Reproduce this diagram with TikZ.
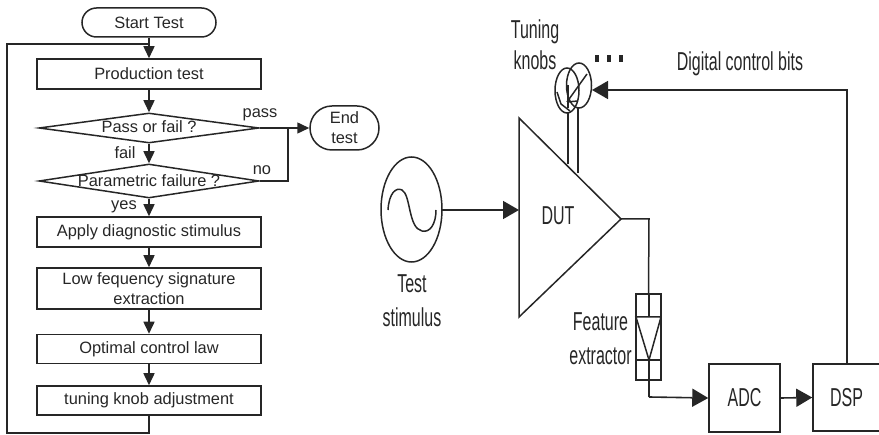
\documentclass[tikz,border=0pt]{standalone}
\usepackage{fontspec}
\usepackage{graphicx}
\setmainfont{Liberation Sans}
\usetikzlibrary{arrows.meta,shapes.misc,shapes.geometric}
\definecolor{ink}{HTML}{262626}
\newcommand{\tallt}[1]{\scalebox{1}[1.62]{#1}}
\tikzset{x=1pt,y=-1pt,
 every node/.style={text=ink,font=\fontsize{16.4}{20}\selectfont,inner sep=0pt,align=center},
 flow/.style={draw=ink,line width=1.5pt,-{Triangle[length=12pt,width=11pt]}},
 bigflow/.style={draw=ink,line width=1.6pt,-{Triangle[length=16pt,width=18pt]}},
 plain/.style={draw=ink,line width=1.5pt},
 boxnode/.style={draw=ink,line width=1.5pt,rectangle,minimum width=224pt,anchor=center},
 lab/.style={draw=none,font=\fontsize{16.4}{18}\selectfont},
 rlab/.style={draw=none,font=\fontsize{16}{18}\selectfont},
 biglab/.style={draw=none,font=\fontsize{16}{34}\selectfont},
 tunelab/.style={draw=none,font=\fontsize{16}{31}\selectfont},
 dotsq/.style={draw=none,fill=ink,minimum width=4pt,minimum height=7pt,rectangle}
}
\begin{document}
\begin{tikzpicture}
\useasboundingbox (0,0) rectangle (879,435);
% flowchart
\node[draw=ink,line width=1.5pt,rounded rectangle,minimum width=134pt,minimum height=29pt] (start) at (149,22.5) {Start Test};
\node[boxnode,minimum height=30pt] (prod) at (149,74) {Production test};
\node[draw=ink,line width=1.5pt,diamond,aspect=7.3,minimum width=220pt,minimum height=30pt,inner sep=0pt] (d1) at (149,128) {};
\node[lab] (d1t) at (149,127) {Pass or fail ?};
\node[draw=ink,line width=1.5pt,diamond,aspect=6.5,minimum width=220pt,minimum height=34pt,inner sep=0pt] (d2) at (149,181) {};
\node[lab] (d2t) at (149,181) {Parametric failure ?};
\node[boxnode,minimum height=30pt] (apply) at (149,232) {Apply diagnostic stimulus};
\node[boxnode,minimum height=41pt] (low) at (149,288.5) {Low fequency signature\\extraction};
\node[boxnode,minimum height=29pt] (opt) at (149,349) {Optimal control law};
\node[boxnode,minimum height=29pt] (tune) at (149,400.5) {tuning knob adjustment};
\node[draw=ink,line width=1.5pt,rounded rectangle,minimum width=69pt,minimum height=44pt] (endt) at (344.5,128) {End\\test};
\coordinate (j1) at (149,44);
\coordinate (bot) at (149,433);
\coordinate (lft) at (7,433);
\coordinate (ltop) at (7,44);
\coordinate (j2) at (288,128);
\coordinate (j3) at (288,181);
\draw[plain] (start.south) -- (j1);
\draw[flow] (j1) -- (prod.north);
\draw[flow] (prod.south) -- (d1.north);
\draw[flow] (d1.south) -- (d2.north);
\draw[flow] (d2.south) -- (apply.north);
\draw[flow] (apply.south) -- (low.north);
\draw[flow] (low.south) -- (opt.north);
\draw[flow] (opt.south) -- (tune.north);
\draw[plain] (tune.south) -- (bot) -- (lft) -- (ltop) -- (j1);
\draw[flow] (d1.east) -- (endt.west);
\draw[plain] (d2.east) -- (j3) -- (j2);
\node[lab] (pass) at (260,115) {pass};
\node[lab] (fail) at (125,153) {fail};
\node[lab] (no) at (262,170) {no};
\node[lab] (yes) at (124,207) {yes};
% right
\coordinate (ta) at (519,118);
\coordinate (tb) at (519,317);
\coordinate (tc) at (621,219);
\draw[plain,line join=miter] (ta) -- (tc) -- (tb) -- cycle;
\node[rlab] (dut) at (558,216) {\tallt{DUT}};
\draw[plain] (411.5,209.5) ellipse [x radius=30.5,y radius=52.5];
\draw[plain] (388,210) .. controls (389,193) and (396,187) .. (402,190) .. controls (411,195) and (408,228) .. (422,231) .. controls (430,233) and (436,224) .. (436,210);
\coordinate (src) at (442,210);
\coordinate (inp) at (519,210);
\draw[bigflow] (src) -- (inp);
\node[biglab] (tst) at (412,301) {\tallt{Test}\\\tallt{stimulus}};
% knobs
\draw[plain] (567,90.5) ellipse [x radius=12,y radius=22.5];
\draw[plain] (568,85) -- (568,108);
\draw[plain] (557,92) -- (561,104) -- (570,111);
\draw[plain] (579,85.5) ellipse [x radius=12.5,y radius=22.5];
\coordinate (k1) at (568,113);
\coordinate (k2) at (578,108);
\coordinate (f1) at (568,164);
\coordinate (f2) at (578,173);
\draw[plain] (k1) -- (f1);
\draw[plain] (k2) -- (f2);
\draw[plain] (587,74) -- (567,102) (567,102) -- (578,101);
\node[dotsq] (d1s) at (597,59) {};
\node[dotsq] (d2s) at (608.5,59) {};
\node[dotsq] (d3s) at (620.5,59) {};
\node[tunelab] (tk) at (535,45) {\tallt{Tuning}\\\tallt{knobs}};
\node[rlab] (dcb) at (740,64) {\tallt{Digital control bits}};
% feature
\node[draw=ink,line width=1.5pt,rectangle,minimum width=25pt,minimum height=86pt] (fe) at (648.5,337) {};
\coordinate (o1) at (649,219);
\coordinate (o2) at (649,397);
\draw[plain] (tc) -- (o1) -- (fe.north);
\draw[plain] (636,317) -- (661,317) -- (649,360) -- cycle;
\draw[plain] (636,360) -- (661,360);
\draw[plain] (649,294) -- (649,317);
\node[biglab] (fx) at (600.5,339) {\tallt{Feature}\\\tallt{extractor}};
\node[draw=ink,line width=1.5pt,rectangle,minimum width=71pt,minimum height=68pt,font=\fontsize{16}{18}\selectfont] (adc) at (744.5,398) {\tallt{ADC}};
\node[draw=ink,line width=1.5pt,rectangle,minimum width=67pt,minimum height=67pt,font=\fontsize{16}{18}\selectfont] (dsp) at (846.5,397.5) {\tallt{DSP}};
\draw[plain] (649,360) -- (o2);
\draw[bigflow] (o2) -- (adc.west);
\draw[bigflow] (adc.east) -- (dsp.west);
\coordinate (c1) at (847,90);
\coordinate (c2) at (592,90);
\draw[bigflow] (dsp.north -| c1) -- (c1) -- (c2);
\end{tikzpicture}
\end{document}
